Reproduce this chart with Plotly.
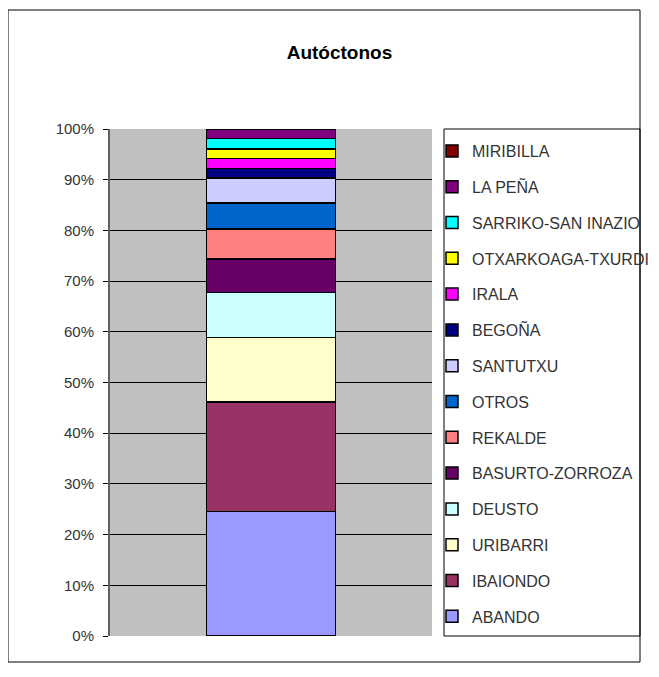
import plotly.graph_objects as go

categories = [""]
series_names = ["ABANDO", "IBAIONDO", "URIBARRI", "DEUSTO", "BASURTO-ZORROZA", "REKALDE",
                "OTROS", "SANTUTXU", "BEGOÑA", "IRALA", "OTXARKOAGA-TXURDI",
                "SARRIKO-SAN INAZIO", "LA PEÑA", "MIRIBILLA"]
series_values = [24.6, 21.6, 12.7, 8.9, 6.6, 5.9, 5.1, 4.9, 1.9, 2.0, 1.9, 2.0, 1.8, 0.1]
series_colors = ["#9999FF", "#993366", "#FFFFCC", "#CCFFFF", "#660066", "#FF8080",
                 "#0066CC", "#CCCCFF", "#000080", "#FF00FF", "#FFFF00",
                 "#00FFFF", "#800080", "#800000"]
tick_vals = [0, 10, 20, 30, 40, 50, 60, 70, 80, 90, 100]
tick_text = [f"{v}%" for v in tick_vals]

L, T, B = 102, 121, 49
W, H = 659, 677
PW = 322
R = W - L - PW
PH = H - T - B


def px_x(px):
    return (px - L) / PW


def px_y(py):
    return (T + PH - py) / PH


fig = go.Figure()
n = len(series_names)
for i, (name, val, col) in enumerate(zip(series_names, series_values, series_colors)):
    fig.add_trace(go.Bar(
        x=categories, y=[val], name=name, legendgroup=name,
        legendrank=1000 - i,
        marker=dict(color=col, line=dict(color="black", width=1.5)),
        width=0.4,
    ))

fig.update_layout(
    width=W, height=H,
    barmode="stack",
    paper_bgcolor="white", plot_bgcolor="#C0C0C0",
    margin=dict(l=L, r=R, t=T, b=B, autoexpand=False),
    font=dict(family="Liberation Sans, Arial, sans-serif", size=15, color="#333333"),
    title=dict(text="<b>Autóctonos</b>", x=331.5 / W, xanchor="center",
               y=1 - 44 / H, yanchor="middle",
               font=dict(size=19, color="black")),
    xaxis=dict(showticklabels=False, showgrid=False, zeroline=False, range=[-0.5, 0.5]),
    yaxis=dict(range=[0, 100], tickvals=tick_vals, ticktext=tick_text,
               showgrid=True, gridcolor="black", gridwidth=1,
               ticks="outside", ticklen=5, tickcolor="black",
               showline=True, linecolor="#606060", linewidth=2,
               zeroline=False, ticklabelstandoff=6,
               tickfont=dict(size=15, color="#333333")),
    showlegend=True,
    legend=dict(traceorder="grouped", x=px_x(424), xanchor="left",
                y=px_y(126), yanchor="top",
                borderwidth=0, bgcolor="rgba(0,0,0,0)",
                tracegroupgap=12, font=dict(size=16, color="#333333"),
                itemwidth=30),
    shapes=[
        dict(type="rect", xref="paper", yref="paper",
             x0=px_x(0), x1=px_x(632), y0=px_y(654), y1=px_y(2),
             line=dict(color="black", width=1), fillcolor="rgba(0,0,0,0)", layer="below"),
        dict(type="rect", xref="paper", yref="paper",
             x0=px_x(436), x1=px_x(632), y0=0, y1=1,
             line=dict(color="black", width=1), fillcolor="rgba(0,0,0,0)", layer="below"),
    ],
)

fig.write_html("out.html")
